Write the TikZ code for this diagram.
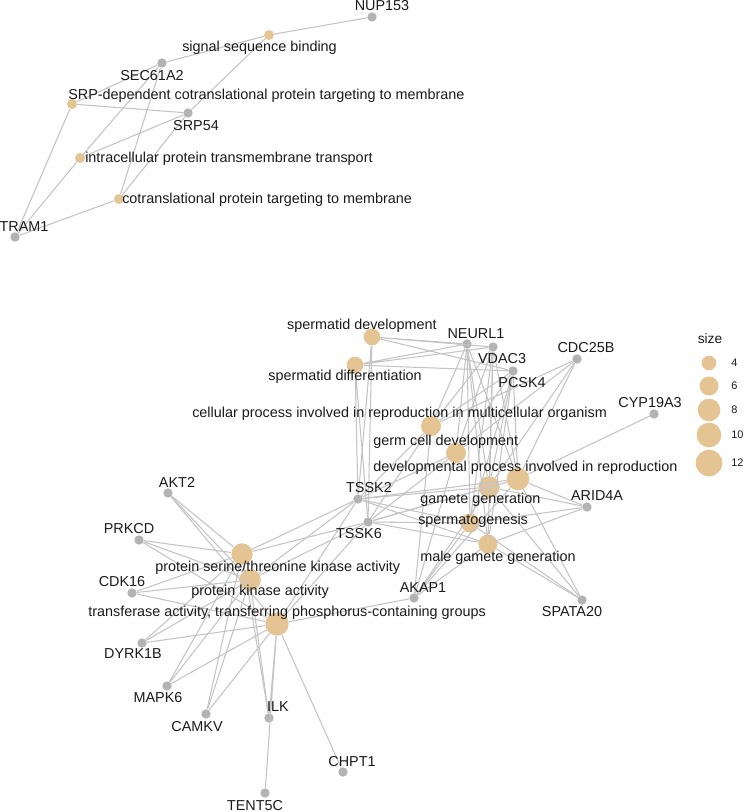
\documentclass[tikz,border=0pt]{standalone}
\usepackage{fontspec}
\setmainfont{Liberation Sans}
\usepackage{xcolor}
\usepackage{tikz}
\definecolor{cntan}{HTML}{E5C494}
\definecolor{cngray}{HTML}{B3B3B3}
\definecolor{cnedge}{HTML}{C4C4C4}
\definecolor{cntext}{HTML}{1A1A1A}

\begin{document}
\begin{tikzpicture}[x=0.75pt, y=-0.75pt,
  gene/.style={circle, fill=cngray, inner sep=0pt, minimum size=7pt},
  cat/.style={circle, fill=cntan, inner sep=0pt, minimum size=#1},
  lab/.style={text=cntext, inner sep=0pt, font=\fontsize{10.8}{12}\selectfont},
  edge/.style={draw=cnedge, line width=0.8pt}]
  \useasboundingbox (0,0) rectangle (744,812);

  \node[gene] (nup153) at (372,17) {};
  \node[gene] (sec61a2) at (162,63) {};
  \node[gene] (srp54) at (188,113) {};
  \node[gene] (tram1) at (15,237) {};
  \node[cat=7.5pt] (sigseq) at (269,35) {};
  \node[cat=7.5pt] (srpdep) at (72,104) {};
  \node[cat=7.5pt] (intrans) at (80,158) {};
  \node[cat=7.5pt] (cotrans) at (119,199) {};

  \node[gene] (neurl1) at (467,344) {};
  \node[gene] (vdac3) at (493,347) {};
  \node[gene] (pcsk4) at (513,371) {};
  \node[gene] (cdc25b) at (577,359) {};
  \node[gene] (cyp19a3) at (654,414) {};
  \node[gene] (arid4a) at (587,507) {};
  \node[gene] (tssk2) at (358,499) {};
  \node[gene] (tssk6) at (368,522) {};
  \node[gene] (akap1) at (414,598) {};
  \node[gene] (spata20) at (582,600) {};
  \node[gene] (akt2) at (168,493) {};
  \node[gene] (prkcd) at (139,540) {};
  \node[gene] (cdk16) at (132,593) {};
  \node[gene] (dyrk1b) at (142,643) {};
  \node[gene] (mapk6) at (167,686) {};
  \node[gene] (camkv) at (206,714) {};
  \node[gene] (ilk) at (269,718) {};
  \node[gene] (chpt1) at (343,772) {};
  \node[gene] (tent5c) at (265,793) {};

  \node[cat=12.5pt] (sdev) at (372,337) {};
  \node[cat=12.5pt] (sdiff) at (355,365) {};
  \node[cat=15pt] (cellrep) at (431,426) {};
  \node[cat=15pt] (germdev) at (456,453) {};
  \node[cat=17pt] (devrep) at (518,479) {};
  \node[cat=16.2pt] (gamgen) at (489,487) {};
  \node[cat=14.3pt] (spgen) at (470,523) {};
  \node[cat=14.3pt] (malegam) at (488,544) {};
  \node[cat=16pt] (stkin) at (242,554) {};
  \node[cat=16.2pt] (pkin) at (250,580) {};
  \node[cat=17.5pt] (trans) at (277,624) {};

  \draw[edge] (sigseq) -- (nup153) (sigseq) -- (sec61a2) (sigseq) -- (srp54);
  \draw[edge] (srpdep) -- (sec61a2) (srpdep) -- (srp54) (srpdep) -- (tram1);
  \draw[edge] (intrans) -- (sec61a2) (intrans) -- (srp54) (intrans) -- (tram1);
  \draw[edge] (cotrans) -- (sec61a2) (cotrans) -- (srp54) (cotrans) -- (tram1);

  \draw[edge] (sdev) -- (neurl1) (sdev) -- (vdac3) (sdev) -- (pcsk4) (sdev) -- (tssk2) (sdev) -- (tssk6);
  \draw[edge] (sdiff) -- (neurl1) (sdiff) -- (vdac3) (sdiff) -- (pcsk4) (sdiff) -- (tssk2) (sdiff) -- (tssk6);
  \draw[edge] (cellrep) -- (neurl1) (cellrep) -- (vdac3) (cellrep) -- (pcsk4) (cellrep) -- (tssk2) (cellrep) -- (tssk6) (cellrep) -- (cdc25b) (cellrep) -- (akap1);
  \draw[edge] (germdev) -- (neurl1) (germdev) -- (vdac3) (germdev) -- (pcsk4) (germdev) -- (tssk2) (germdev) -- (tssk6) (germdev) -- (cdc25b) (germdev) -- (akap1);
  \draw[edge] (devrep) -- (neurl1) (devrep) -- (vdac3) (devrep) -- (pcsk4) (devrep) -- (tssk2) (devrep) -- (tssk6) (devrep) -- (cdc25b) (devrep) -- (akap1) (devrep) -- (cyp19a3) (devrep) -- (arid4a) (devrep) -- (spata20);
  \draw[edge] (gamgen) -- (neurl1) (gamgen) -- (vdac3) (gamgen) -- (pcsk4) (gamgen) -- (tssk2) (gamgen) -- (tssk6) (gamgen) -- (cdc25b) (gamgen) -- (akap1) (gamgen) -- (arid4a) (gamgen) -- (spata20);
  \draw[edge] (spgen) -- (neurl1) (spgen) -- (vdac3) (spgen) -- (pcsk4) (spgen) -- (tssk2) (spgen) -- (tssk6) (spgen) -- (akap1) (spgen) -- (arid4a) (spgen) -- (spata20);
  \draw[edge] (malegam) -- (neurl1) (malegam) -- (vdac3) (malegam) -- (pcsk4) (malegam) -- (tssk2) (malegam) -- (tssk6) (malegam) -- (akap1) (malegam) -- (arid4a) (malegam) -- (spata20);
  \draw[edge] (stkin) -- (akt2) (stkin) -- (prkcd) (stkin) -- (cdk16) (stkin) -- (dyrk1b) (stkin) -- (mapk6) (stkin) -- (camkv) (stkin) -- (ilk) (stkin) -- (tssk2) (stkin) -- (tssk6);
  \draw[edge] (pkin) -- (akt2) (pkin) -- (prkcd) (pkin) -- (cdk16) (pkin) -- (dyrk1b) (pkin) -- (mapk6) (pkin) -- (camkv) (pkin) -- (ilk) (pkin) -- (tssk2) (pkin) -- (tssk6);
  \draw[edge] (trans) -- (akt2) (trans) -- (prkcd) (trans) -- (cdk16) (trans) -- (dyrk1b) (trans) -- (mapk6) (trans) -- (camkv) (trans) -- (ilk) (trans) -- (tssk2) (trans) -- (tssk6) (trans) -- (akap1) (trans) -- (chpt1) (trans) -- (tent5c);

  \node[lab] (l-nup153) at (382,6) {NUP153};
  \node[lab, anchor=west] (l-sigseq) at (182,48) {signal sequence binding};
  \node[lab] (l-sec61a2) at (152,76) {SEC61A2};
  \node[lab, anchor=west] (l-srpdep) at (68,96) {SRP-dependent cotranslational protein targeting to membrane};
  \node[lab] (l-srp54) at (196,126) {SRP54};
  \node[lab, anchor=west] (l-intrans) at (85,159) {intracellular protein transmembrane transport};
  \node[lab, anchor=west] (l-cotrans) at (122,200) {cotranslational protein targeting to membrane};
  \node[lab] (l-tram1) at (24,227) {TRAM1};

  \node[lab, anchor=east] (l-sdev) at (437,326) {spermatid development};
  \node[lab, anchor=east] (l-sdiff) at (422,377) {spermatid differentiation};
  \node[lab] (l-neurl1) at (476,334) {NEURL1};
  \node[lab] (l-vdac3) at (502,359) {VDAC3};
  \node[lab] (l-pcsk4) at (522,383) {PCSK4};
  \node[lab] (l-cdc25b) at (586,348) {CDC25B};
  \node[lab] (l-cyp19a3) at (650,403) {CYP19A3};
  \node[lab, anchor=west] (l-cellrep) at (192,414) {cellular process involved in reproduction in multicellular organism};
  \node[lab, anchor=west] (l-germdev) at (373,442) {germ cell development};
  \node[lab, anchor=west] (l-devrep) at (373,468) {developmental process involved in reproduction};
  \node[lab, anchor=west] (l-gamgen) at (420,500) {gamete generation};
  \node[lab] (l-tssk2) at (369,488) {TSSK2};
  \node[lab] (l-arid4a) at (597,496) {ARID4A};
  \node[lab] (l-tssk6) at (359,534) {TSSK6};
  \node[lab, anchor=west] (l-spgen) at (418,521) {spermatogenesis};
  \node[lab, anchor=west] (l-malegam) at (420,558) {male gamete generation};
  \node[lab] (l-akap1) at (423,588) {AKAP1};
  \node[lab] (l-spata20) at (572,612) {SPATA20};
  \node[lab, anchor=west] (l-trans) at (88,613) {transferase activity, transferring phosphorus-containing groups};
  \node[lab, anchor=west] (l-pkin) at (191,592) {protein kinase activity};
  \node[lab, anchor=west] (l-stkin) at (155,568) {protein serine/threonine kinase activity};
  \node[lab] (l-akt2) at (177,482) {AKT2};
  \node[lab] (l-prkcd) at (129,529) {PRKCD};
  \node[lab] (l-cdk16) at (122,582) {CDK16};
  \node[lab] (l-dyrk1b) at (133,654) {DYRK1B};
  \node[lab] (l-mapk6) at (158,698) {MAPK6};
  \node[lab] (l-camkv) at (197,727) {CAMKV};
  \node[lab] (l-ilk) at (278,707) {ILK};
  \node[lab] (l-chpt1) at (352,762) {CHPT1};
  \node[lab] (l-tent5c) at (255,806) {TENT5C};

  \node[text=cntext, font=\fontsize{10.3}{12}\selectfont] (size) at (710,339) {size};
  \node[cat=11pt] (s4) at (709,363) {};
  \node[cat=14.3pt] (s6) at (709,386) {};
  \node[cat=17pt] (s8) at (709,410) {};
  \node[cat=18.5pt] (s10) at (709,435) {};
  \node[cat=20pt] (s12) at (709,463) {};
  \node[text=cntext, anchor=west, inner sep=0pt, font=\fontsize{8.2}{10}\selectfont] (n4) at (731,363) {4};
  \node[text=cntext, anchor=west, inner sep=0pt, font=\fontsize{8.2}{10}\selectfont] (n6) at (731,386) {6};
  \node[text=cntext, anchor=west, inner sep=0pt, font=\fontsize{8.2}{10}\selectfont] (n8) at (731,410) {8};
  \node[text=cntext, anchor=west, inner sep=0pt, font=\fontsize{8.2}{10}\selectfont] (n10) at (731,435) {10};
  \node[text=cntext, anchor=west, inner sep=0pt, font=\fontsize{8.2}{10}\selectfont] (n12) at (731,463) {12};
\end{tikzpicture}
\end{document}
